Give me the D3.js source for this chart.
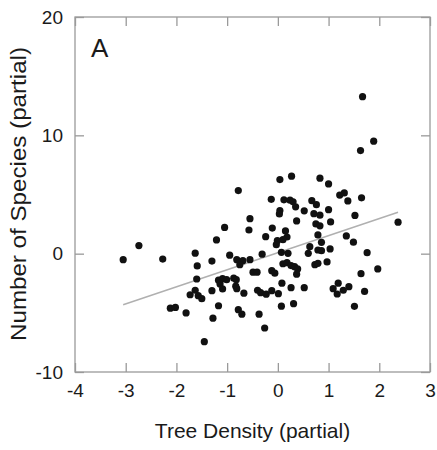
<!DOCTYPE html>
<html><head><meta charset="utf-8">
<script src="https://cdn.jsdelivr.net/npm/d3@7"></script>
<style>html,body{margin:0;padding:0;background:#fff;}</style>
</head><body>
<svg id="chart" width="437" height="450"></svg>
<script>
const xTicks = [-4, -3, -2, -1, 0, 1, 2, 3];
const yTicks = [-10, 0, 10, 20];
const xLabel = "Tree Density (partial)";
const yLabel = "Number of Species (partial)";
const panelLabel = "A";
const treeDensity = [
1.67,1.89,1.63,0.04,0.27,0.83,1.00,-0.78,-0.13,0.12,
0.24,0.30,0.35,0.67,0.76,1.22,1.31,1.38,1.65,0.04,
0.03,0.52,0.71,0.83,1.00,1.52,0.37,0.75,0.83,1.04,
2.37,-0.55,-0.57,-1.05,-1.21,-0.11,-0.24,0.15,0.18,0.10,
-0.01,-0.03,-2.74,-3.05,-2.27,-1.63,-1.30,-0.95,-0.31,0.07,
0.20,0.60,0.63,0.79,0.86,1.03,0.86,0.79,1.35,1.49,
1.76,-0.81,-0.69,-0.55,-0.75,-1.59,-1.60,-0.49,-0.41,-0.12,
-0.06,0.10,0.18,0.26,0.33,0.39,0.37,0.73,0.79,0.97,
1.64,1.97,0.08,0.26,0.52,-0.40,-0.34,-0.23,-0.12,0.01,
-1.17,-1.09,-1.01,-0.87,-0.82,-1.14,-1.09,-0.83,-0.81,-0.67,
-1.30,-1.73,-1.63,-1.57,-1.50,-2.12,-2.02,-1.81,-1.17,-1.28,
-0.78,-0.71,-0.37,-0.26,-1.45,0.07,0.31,1.51,1.09,1.19,
1.17,1.29,1.40,1.71
];
const species = [
13.27,9.51,8.71,6.26,6.55,6.38,5.89,5.33,4.59,4.55,
4.52,4.38,3.96,4.48,4.14,4.95,5.13,4.46,4.72,3.65,
3.36,3.62,3.38,3.25,3.72,3.23,2.77,2.51,2.35,2.68,
2.66,2.96,2.00,2.22,1.16,2.16,1.44,1.92,1.41,1.18,
1.10,0.76,0.68,-0.51,-0.46,0.04,-0.63,-0.13,-0.04,0.11,
0.03,0.03,0.59,0.31,0.25,0.40,0.96,1.58,1.50,0.97,
0.08,-0.51,-0.59,-0.51,-0.93,-1.04,-2.14,-1.56,-1.56,-1.44,
-1.65,-0.85,-0.76,-1.01,-1.10,-1.29,-1.73,-0.93,-0.82,-0.70,
-1.69,-1.29,-2.49,-2.87,-2.87,-3.09,-3.30,-3.42,-3.13,-3.38,
-2.24,-2.11,-2.20,-2.07,-2.20,-2.56,-2.98,-2.75,-2.96,-3.34,
-3.13,-3.47,-3.09,-3.55,-3.80,-4.61,-4.54,-5.01,-4.40,-5.45,
-4.73,-5.11,-5.11,-6.28,-7.44,-4.44,-4.23,-4.45,-2.96,-2.49,
-3.41,-3.09,-2.79,-3.19
];
const fitX = [-3.05, 2.37];
const fitY = [-4.32, 3.50];

const svg = d3.select("#chart");
const mLeft = 75, mRight = 430, mTop = 17, mBottom = 372;
const x = d3.scaleLinear().domain([-4, 3]).range([mLeft, mRight]);
const y = d3.scaleLinear().domain([-10, 20]).range([mBottom, mTop]);
const frameColor = "#9a9a9a";
const textColor = "#1a1a1a";
const font = "Liberation Sans, Arial, sans-serif";

svg.append("rect").attr("x", mLeft).attr("y", mTop)
  .attr("width", mRight - mLeft).attr("height", mBottom - mTop)
  .attr("fill", "none").attr("stroke", frameColor).attr("stroke-width", 1.3);

const tl = 9;
const fmt = d => String(d);
const gB = svg.append("g").attr("transform", `translate(0,${mBottom})`)
  .call(d3.axisBottom(x).tickValues(xTicks).tickSizeInner(-tl).tickSizeOuter(0).tickPadding(12).tickFormat(fmt));
const gT = svg.append("g").attr("transform", `translate(0,${mTop})`)
  .call(d3.axisTop(x).tickValues(xTicks).tickSizeInner(-tl).tickSizeOuter(0).tickFormat(""));
const gL = svg.append("g").attr("transform", `translate(${mLeft},0)`)
  .call(d3.axisLeft(y).tickValues(yTicks).tickSizeInner(-tl).tickSizeOuter(0).tickPadding(12).tickFormat(fmt));
const gR = svg.append("g").attr("transform", `translate(${mRight},0)`)
  .call(d3.axisRight(y).tickValues(yTicks).tickSizeInner(-tl).tickSizeOuter(0).tickFormat(""));
[gB, gT, gL, gR].forEach(g => {
  g.select(".domain").remove();
  g.selectAll(".tick line").attr("stroke", frameColor).attr("stroke-width", 1.3);
  g.selectAll(".tick text").attr("fill", textColor).attr("font-family", font).attr("font-size", 19);
});

svg.append("line")
  .attr("x1", x(fitX[0])).attr("y1", y(fitY[0]))
  .attr("x2", x(fitX[1])).attr("y2", y(fitY[1]))
  .attr("stroke", "#b0b0b0").attr("stroke-width", 1.5);

svg.append("g").selectAll("circle")
  .data(d3.range(treeDensity.length))
  .join("circle")
  .attr("cx", i => x(treeDensity[i]))
  .attr("cy", i => y(species[i]))
  .attr("r", 3.6)
  .attr("fill", "#111");

svg.append("text").attr("x", 91).attr("y", 57).text(panelLabel)
  .attr("font-family", font).attr("font-size", 26).attr("fill", textColor);

svg.append("text").attr("x", 252.5).attr("y", 438)
  .attr("text-anchor", "middle").text(xLabel)
  .attr("font-family", font).attr("font-size", 21).attr("fill", textColor);
svg.append("text")
  .attr("transform", `translate(26,194) rotate(-90)`)
  .attr("text-anchor", "middle").text(yLabel)
  .attr("textLength", 294).attr("lengthAdjust", "spacingAndGlyphs")
  .attr("font-family", font).attr("font-size", 22).attr("fill", textColor);
</script>
</body></html>
